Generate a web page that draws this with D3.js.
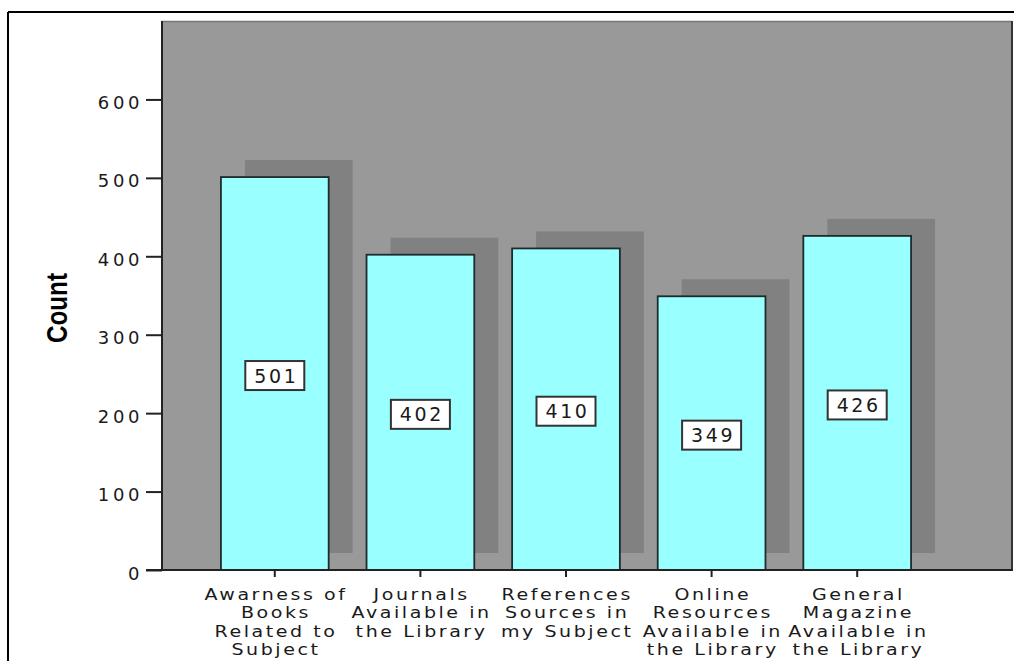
<!DOCTYPE html>
<html>
<head>
<meta charset="utf-8">
<script src="https://d3js.org/d3.v7.min.js"></script>
<style>
  html, body { margin: 0; padding: 0; background: #ffffff; }
  svg { display: block; }
</style>
</head>
<body>
<script>
const categories = [
  "Awarness of|Books|Related to|Subject",
  "Journals|Available in|the Library",
  "References|Sources in|my Subject",
  "Online|Resources|Available in|the Library",
  "General|Magazine|Available in|the Library"
];
const counts = [501, 402, 410, 349, 426];
const yTicks = [0, 100, 200, 300, 400, 500, 600];
const yMax = 700;
const yTitle = "Count";

const W = 1014, H = 661;
const plot = { left: 162, right: 1012, top: 21, bottom: 570 };

const svg = d3.select("body").append("svg").attr("width", W).attr("height", H);

// outer frame
svg.append("line").attr("x1", 8).attr("x2", W).attr("y1", 12).attr("y2", 12)
  .attr("stroke", "#000").attr("stroke-width", 2);
svg.append("line").attr("x1", 8).attr("x2", 8).attr("y1", 12).attr("y2", H)
  .attr("stroke", "#000").attr("stroke-width", 2);

const y = d3.scaleLinear().domain([0, yMax]).range([plot.bottom, plot.top]);
const x = d3.scaleBand().domain(categories).range([202, 930])
  .paddingInner(0.26).paddingOuter(0.13);

// plot background
svg.append("rect").attr("x", plot.left).attr("y", plot.top)
  .attr("width", plot.right - plot.left).attr("height", plot.bottom - plot.top)
  .attr("fill", "#999999");
svg.append("line").attr("x1", plot.left).attr("x2", plot.right)
  .attr("y1", plot.top + 0.5).attr("y2", plot.top + 0.5)
  .attr("stroke", "#777").attr("stroke-width", 1.5);

const shadowDx = 24, shadowDy = -17;
const g = svg.append("g");

// shadows
g.selectAll("rect.shadow").data(counts).join("rect").attr("class", "shadow")
  .attr("x", (d, i) => x(categories[i]) + shadowDx)
  .attr("y", d => y(d) + shadowDy)
  .attr("width", x.bandwidth())
  .attr("height", d => y(0) - y(d))
  .attr("fill", "#818181");

// bars
g.selectAll("rect.bar").data(counts).join("rect").attr("class", "bar")
  .attr("x", (d, i) => x(categories[i]))
  .attr("y", d => y(d))
  .attr("width", x.bandwidth())
  .attr("height", d => y(0) - y(d))
  .attr("fill", "#99ffff")
  .attr("stroke", "#1f2a2a").attr("stroke-width", 1.8);

// plot borders
svg.append("line").attr("x1", plot.left).attr("x2", plot.left)
  .attr("y1", plot.top).attr("y2", plot.bottom)
  .attr("stroke", "#222").attr("stroke-width", 2);
svg.append("line").attr("x1", plot.right).attr("x2", plot.right)
  .attr("y1", plot.top).attr("y2", plot.bottom)
  .attr("stroke", "#333").attr("stroke-width", 2);

const textFont = "'DejaVu Sans', Verdana, sans-serif";

// y axis
const yAxis = svg.append("g").attr("transform", `translate(${plot.left},0)`)
  .call(d3.axisLeft(y).tickValues(yTicks).tickSize(16).tickPadding(3).tickFormat(d3.format("d")));
yAxis.select(".domain").remove();
yAxis.selectAll(".tick line").attr("stroke", "#222").attr("stroke-width", 2);
yAxis.selectAll(".tick text")
  .attr("font-family", textFont).attr("font-size", 18)
  .attr("letter-spacing", "3.6px")
  .attr("fill", "#1a1a1a").attr("dy", "0.5em");

// x axis
const xAxis = svg.append("g").attr("transform", `translate(0,${plot.bottom})`)
  .call(d3.axisBottom(x).tickSize(7).tickFormat(""));
xAxis.select(".domain").remove();
xAxis.selectAll(".tick line").attr("stroke", "#222").attr("stroke-width", 2);
svg.append("line").attr("x1", 146).attr("x2", plot.right + 1)
  .attr("y1", plot.bottom).attr("y2", plot.bottom)
  .attr("stroke", "#222").attr("stroke-width", 2);

// x labels (separate lines, slightly widened horizontally like the original face)
const xl = svg.append("g");
const lineStep = 18.4;
categories.forEach(c => {
  const cx = x(c) + x.bandwidth() / 2;
  c.split("|").forEach((line, k) => {
    xl.append("text")
      .attr("transform", `translate(${cx + 1.2},${600 + k * lineStep}) scale(1.22,1)`)
      .attr("text-anchor", "middle")
      .attr("font-family", textFont).attr("font-size", 15.6)
      .attr("letter-spacing", "2.1px")
      .attr("fill", "#1a1a1a")
      .text(line);
  });
});

// value labels
counts.forEach((v, i) => {
  const cx = x(categories[i]) + x.bandwidth() / 2;
  const cy = (y(v) + y(0)) / 2 + 2;
  const grp = svg.append("g");
  grp.append("rect").attr("x", cx - 29.5).attr("y", cy - 14.5)
    .attr("width", 59).attr("height", 29)
    .attr("fill", "#fff").attr("stroke", "#333").attr("stroke-width", 2);
  grp.append("text").attr("x", cx + 1.5).attr("y", cy + 7)
    .attr("text-anchor", "middle")
    .attr("font-family", textFont).attr("font-size", 19)
    .attr("letter-spacing", "2.6px")
    .attr("fill", "#1a1a1a").text(v);
});

// y title
svg.append("text")
  .attr("transform", "translate(67,308) rotate(-90)")
  .attr("text-anchor", "middle")
  .attr("font-family", "'Liberation Sans Narrow', 'Liberation Sans', Arial, sans-serif")
  .attr("font-weight", "bold")
  .attr("font-size", 29)
  .attr("textLength", 70).attr("lengthAdjust", "spacingAndGlyphs")
  .attr("fill", "#000")
  .text(yTitle);
</script>
</body>
</html>
